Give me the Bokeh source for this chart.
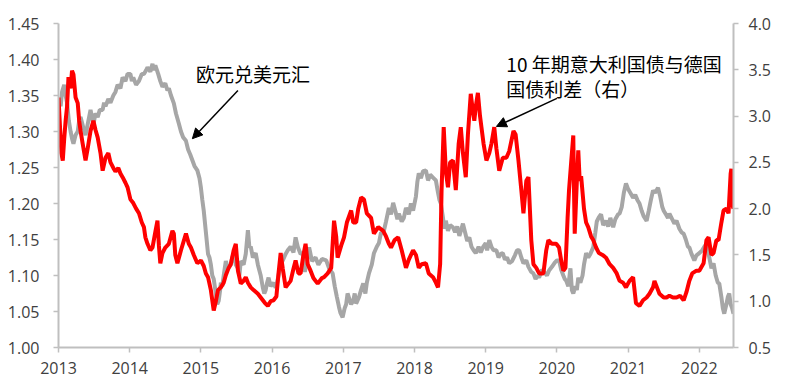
from bokeh.plotting import figure
from bokeh.models import Range1d, LinearAxis, FixedTicker, NumeralTickFormatter, Label, Arrow, NormalHead
from bokeh.embed import file_html
from bokeh.resources import INLINE

# EUR/USD (left axis)
eur_t = [2013.00, 2013.015, 2013.03, 2013.05, 2013.08, 2013.10, 2013.12, 2013.145, 2013.17, 2013.19,
         2013.21, 2013.24, 2013.27, 2013.29, 2013.31, 2013.35, 2013.38, 2013.42, 2013.45, 2013.47,
         2013.49, 2013.52, 2013.55, 2013.58, 2013.62, 2013.64, 2013.66, 2013.70, 2013.73, 2013.77,
         2013.80, 2013.83, 2013.87, 2013.90, 2013.94, 2013.97, 2014.01, 2014.03, 2014.05, 2014.09,
         2014.13, 2014.17, 2014.20, 2014.23, 2014.25, 2014.29, 2014.32, 2014.34, 2014.36, 2014.40,
         2014.43, 2014.46, 2014.50, 2014.53, 2014.55, 2014.58, 2014.62, 2014.65, 2014.69, 2014.72,
         2014.75, 2014.79, 2014.82, 2014.85, 2014.88, 2014.91, 2014.95, 2014.98, 2015.00, 2015.02,
         2015.04, 2015.07, 2015.10, 2015.12, 2015.14, 2015.16, 2015.18, 2015.21, 2015.23, 2015.25,
         2015.27, 2015.28, 2015.30, 2015.32, 2015.35, 2015.38, 2015.42, 2015.44, 2015.46, 2015.49,
         2015.52, 2015.54, 2015.56, 2015.60, 2015.63, 2015.66, 2015.68, 2015.70, 2015.73, 2015.77,
         2015.80, 2015.84, 2015.87, 2015.89, 2015.91, 2015.93, 2015.95, 2015.98, 2016.02, 2016.05,
         2016.07, 2016.09, 2016.12, 2016.15, 2016.19, 2016.22, 2016.26, 2016.30, 2016.33, 2016.36,
         2016.40, 2016.43, 2016.46, 2016.48, 2016.52, 2016.56, 2016.61, 2016.65, 2016.70, 2016.76,
         2016.80, 2016.85, 2016.88, 2016.91, 2016.94, 2016.96, 2016.99, 2017.02, 2017.04, 2017.06,
         2017.08, 2017.11, 2017.14, 2017.16, 2017.18, 2017.22, 2017.25, 2017.28, 2017.31, 2017.33,
         2017.36, 2017.40, 2017.43, 2017.47, 2017.50, 2017.53, 2017.56, 2017.60, 2017.64, 2017.67,
         2017.70, 2017.73, 2017.76, 2017.78, 2017.82, 2017.85, 2017.88, 2017.92, 2017.95, 2017.98,
         2018.02, 2018.04, 2018.06, 2018.09, 2018.12, 2018.16, 2018.19, 2018.22, 2018.26, 2018.30,
         2018.33, 2018.35, 2018.37, 2018.40, 2018.42, 2018.44, 2018.47, 2018.50, 2018.54, 2018.57,
         2018.60, 2018.63, 2018.66, 2018.68, 2018.71, 2018.74, 2018.77, 2018.80, 2018.83, 2018.86,
         2018.90, 2018.93, 2018.96, 2019.00, 2019.02, 2019.05, 2019.08, 2019.11, 2019.15, 2019.18,
         2019.21, 2019.24, 2019.27, 2019.30, 2019.33, 2019.37, 2019.41, 2019.44, 2019.47, 2019.50,
         2019.53, 2019.57, 2019.60, 2019.64, 2019.67, 2019.70, 2019.73, 2019.75, 2019.79, 2019.82,
         2019.86, 2019.89, 2019.93, 2019.97, 2020.00, 2020.03, 2020.06, 2020.09, 2020.11, 2020.13,
         2020.16, 2020.19, 2020.21, 2020.23, 2020.26, 2020.28, 2020.30, 2020.33, 2020.36, 2020.38,
         2020.41, 2020.44, 2020.47, 2020.51, 2020.54, 2020.56, 2020.59, 2020.62, 2020.65, 2020.69,
         2020.72, 2020.75, 2020.79, 2020.82, 2020.86, 2020.88, 2020.91, 2020.94, 2020.97, 2021.00,
         2021.03, 2021.07, 2021.10, 2021.13, 2021.16, 2021.19, 2021.22, 2021.26, 2021.29, 2021.32,
         2021.35, 2021.38, 2021.42, 2021.45, 2021.48, 2021.50, 2021.53, 2021.56, 2021.58, 2021.62,
         2021.65, 2021.68, 2021.72, 2021.75, 2021.78, 2021.81, 2021.84, 2021.86, 2021.89, 2021.93,
         2021.96, 2022.00, 2022.04, 2022.07, 2022.10, 2022.13, 2022.17, 2022.20, 2022.23, 2022.26,
         2022.28, 2022.31, 2022.33, 2022.35, 2022.38, 2022.40, 2022.42, 2022.44, 2022.46, 2022.48]
eur_v = [1.330, 1.345, 1.335, 1.355, 1.365, 1.350, 1.340, 1.315, 1.300, 1.290,
         1.283, 1.295, 1.300, 1.315, 1.320, 1.305, 1.295, 1.315, 1.330, 1.320,
         1.310, 1.325, 1.320, 1.330, 1.330, 1.340, 1.335, 1.345, 1.340, 1.350,
         1.355, 1.365, 1.360, 1.375, 1.370, 1.380, 1.380, 1.370, 1.375, 1.365,
         1.370, 1.380, 1.380, 1.385, 1.389, 1.383, 1.394, 1.385, 1.392, 1.380,
         1.370, 1.362, 1.367, 1.357, 1.360, 1.350, 1.339, 1.325, 1.311, 1.300,
         1.292, 1.287, 1.275, 1.268, 1.260, 1.252, 1.246, 1.235, 1.222, 1.205,
         1.190, 1.160, 1.130, 1.125, 1.115, 1.100, 1.095, 1.075, 1.060, 1.065,
         1.080, 1.090, 1.085, 1.100, 1.120, 1.110, 1.115, 1.125, 1.130, 1.115,
         1.110, 1.100, 1.120, 1.115, 1.130, 1.163, 1.140, 1.140, 1.125, 1.131,
         1.115, 1.100, 1.083, 1.075, 1.080, 1.090, 1.097, 1.085, 1.090, 1.083,
         1.090, 1.100, 1.115, 1.121, 1.130, 1.135, 1.140, 1.132, 1.153, 1.140,
         1.130, 1.131, 1.105, 1.115, 1.139, 1.120, 1.125, 1.115, 1.123, 1.121,
         1.110, 1.103, 1.085, 1.070, 1.056, 1.048, 1.042, 1.055, 1.060, 1.075,
         1.069, 1.060, 1.065, 1.075, 1.061, 1.070, 1.080, 1.089, 1.075, 1.090,
         1.103, 1.115, 1.131, 1.140, 1.145, 1.160, 1.158, 1.175, 1.194, 1.185,
         1.201, 1.190, 1.178, 1.186, 1.175, 1.180, 1.194, 1.185, 1.200, 1.190,
         1.210, 1.230, 1.242, 1.235, 1.245, 1.246, 1.232, 1.240, 1.236, 1.232,
         1.215, 1.205, 1.200, 1.180, 1.165, 1.176, 1.162, 1.170, 1.167, 1.160,
         1.168, 1.155, 1.165, 1.172, 1.160, 1.148, 1.153, 1.140, 1.135, 1.131,
         1.140, 1.132, 1.139, 1.145, 1.135, 1.149, 1.140, 1.135, 1.135, 1.125,
         1.130, 1.131, 1.122, 1.125, 1.117, 1.120, 1.128, 1.135, 1.135, 1.125,
         1.117, 1.121, 1.112, 1.105, 1.103, 1.095, 1.100, 1.097, 1.108, 1.105,
         1.100, 1.107, 1.112, 1.118, 1.121, 1.121, 1.108, 1.100, 1.095, 1.093,
         1.085, 1.110, 1.080, 1.075, 1.085, 1.080, 1.097, 1.090, 1.100, 1.115,
         1.131, 1.125, 1.130, 1.139, 1.160, 1.175, 1.181, 1.185, 1.170, 1.176,
         1.168, 1.180, 1.167, 1.178, 1.185, 1.186, 1.195, 1.215, 1.228, 1.220,
         1.215, 1.208, 1.212, 1.205, 1.200, 1.190, 1.182, 1.176, 1.190, 1.205,
         1.218, 1.215, 1.222, 1.210, 1.195, 1.190, 1.185, 1.180, 1.186, 1.178,
         1.172, 1.176, 1.165, 1.160, 1.158, 1.150, 1.140, 1.139, 1.130, 1.121,
         1.128, 1.131, 1.135, 1.140, 1.144, 1.130, 1.110, 1.117, 1.100, 1.090,
         1.089, 1.070, 1.055, 1.047, 1.060, 1.070, 1.075, 1.060, 1.055, 1.047]

# 10Y Italy-Germany spread, % (right axis)
spr_t = [2013.00, 2013.02, 2013.04, 2013.06, 2013.08, 2013.10, 2013.12, 2013.14, 2013.17, 2013.19,
         2013.21, 2013.24, 2013.27, 2013.29, 2013.31, 2013.34, 2013.38, 2013.41, 2013.45, 2013.49,
         2013.52, 2013.55, 2013.59, 2013.62, 2013.66, 2013.70, 2013.73, 2013.77, 2013.80, 2013.84,
         2013.87, 2013.90, 2013.94, 2013.97, 2014.01, 2014.05, 2014.09, 2014.13, 2014.17, 2014.20,
         2014.22, 2014.25, 2014.29, 2014.32, 2014.36, 2014.39, 2014.41, 2014.43, 2014.46, 2014.50,
         2014.55, 2014.60, 2014.62, 2014.64, 2014.67, 2014.72, 2014.79, 2014.83, 2014.86, 2014.90,
         2014.95, 2015.00, 2015.04, 2015.07, 2015.10, 2015.14, 2015.18, 2015.21, 2015.24, 2015.28,
         2015.32, 2015.35, 2015.39, 2015.42, 2015.46, 2015.49, 2015.52, 2015.56, 2015.60, 2015.63,
         2015.66, 2015.70, 2015.74, 2015.80, 2015.84, 2015.90, 2015.94, 2015.98, 2016.02, 2016.06,
         2016.09, 2016.12, 2016.15, 2016.19, 2016.23, 2016.26, 2016.30, 2016.33, 2016.37, 2016.40,
         2016.44, 2016.47, 2016.50, 2016.54, 2016.58, 2016.64, 2016.70, 2016.73, 2016.78, 2016.83,
         2016.87, 2016.90, 2016.92, 2016.97, 2017.01, 2017.05, 2017.11, 2017.14, 2017.18, 2017.21,
         2017.25, 2017.29, 2017.33, 2017.39, 2017.43, 2017.49, 2017.56, 2017.60, 2017.64, 2017.67,
         2017.72, 2017.77, 2017.82, 2017.88, 2017.92, 2017.98, 2018.02, 2018.06, 2018.10, 2018.16,
         2018.20, 2018.26, 2018.30, 2018.33, 2018.36, 2018.38, 2018.41, 2018.44, 2018.47, 2018.50,
         2018.54, 2018.58, 2018.62, 2018.65, 2018.68, 2018.72, 2018.75, 2018.79, 2018.82, 2018.84,
         2018.86, 2018.89, 2018.92, 2018.94, 2018.97, 2019.01, 2019.05, 2019.08, 2019.12, 2019.15,
         2019.19, 2019.24, 2019.29, 2019.33, 2019.39, 2019.42, 2019.46, 2019.50, 2019.53, 2019.57,
         2019.60, 2019.62, 2019.64, 2019.67, 2019.71, 2019.75, 2019.81, 2019.85, 2019.88, 2019.93,
         2019.99, 2020.03, 2020.06, 2020.09, 2020.12, 2020.15, 2020.17, 2020.20, 2020.23, 2020.24,
         2020.25, 2020.28, 2020.30, 2020.32, 2020.34, 2020.38, 2020.41, 2020.44, 2020.48, 2020.51,
         2020.55, 2020.59, 2020.64, 2020.69, 2020.74, 2020.79, 2020.84, 2020.88, 2020.93, 2020.97,
         2021.02, 2021.07, 2021.11, 2021.16, 2021.21, 2021.26, 2021.30, 2021.35, 2021.37, 2021.42,
         2021.44, 2021.50, 2021.54, 2021.58, 2021.63, 2021.68, 2021.73, 2021.78, 2021.82, 2021.86,
         2021.90, 2021.96, 2022.00, 2022.06, 2022.10, 2022.13, 2022.17, 2022.20, 2022.24, 2022.27,
         2022.31, 2022.34, 2022.38, 2022.41, 2022.44, 2022.45, 2022.46, 2022.48]
spr_v = [3.20, 2.90, 2.60, 2.52, 2.75, 2.95, 3.10, 3.42, 3.30, 3.49,
         3.45, 3.20, 3.14, 2.95, 2.84, 2.70, 2.52, 2.65, 2.84, 2.95,
         2.85, 2.77, 2.60, 2.41, 2.55, 2.60, 2.50, 2.44, 2.40, 2.44,
         2.38, 2.34, 2.28, 2.23, 2.10, 2.06, 2.00, 1.95, 1.85, 1.80,
         1.69, 1.62, 1.55, 1.58, 1.75, 1.87, 1.60, 1.41, 1.52, 1.58,
         1.62, 1.76, 1.73, 1.50, 1.41, 1.55, 1.73, 1.62, 1.58, 1.50,
         1.41, 1.44, 1.38, 1.30, 1.26, 1.12, 0.90, 1.00, 1.12, 1.15,
         1.20, 1.28, 1.36, 1.40, 1.55, 1.62, 1.33, 1.19, 1.22, 1.26,
         1.20, 1.15, 1.12, 1.08, 1.04, 0.98, 0.95, 1.00, 1.01, 1.05,
         1.30, 1.52, 1.35, 1.15, 1.19, 1.22, 1.35, 1.44, 1.30, 1.30,
         1.50, 1.62, 1.40, 1.33, 1.25, 1.19, 1.25, 1.26, 1.30, 1.36,
         1.87, 1.70, 1.47, 1.60, 1.69, 1.85, 1.98, 1.85, 1.85, 2.00,
         2.12, 2.10, 1.95, 1.90, 1.73, 1.80, 1.76, 1.70, 1.62, 1.58,
         1.66, 1.69, 1.55, 1.36, 1.45, 1.55, 1.50, 1.36, 1.40, 1.41,
         1.30, 1.26, 1.20, 1.15, 1.40, 2.20, 2.88, 2.40, 2.23, 2.50,
         2.52, 2.20, 2.70, 2.88, 2.60, 2.34, 2.80, 3.24, 3.05, 2.95,
         3.10, 3.25, 3.00, 2.88, 2.70, 2.52, 2.60, 2.70, 2.88, 2.65,
         2.41, 2.55, 2.55, 2.62, 2.84, 2.80, 2.52, 2.20, 1.95, 2.30,
         2.34, 2.00, 1.66, 1.40, 1.36, 1.30, 1.30, 1.55, 1.66, 1.62,
         1.62, 1.58, 1.44, 1.33, 1.36, 1.90, 2.20, 2.50, 2.79, 2.20,
         1.73, 2.30, 2.63, 2.30, 2.35, 2.00, 1.85, 1.80, 1.70, 1.66,
         1.58, 1.52, 1.50, 1.47, 1.40, 1.36, 1.30, 1.22, 1.20, 1.15,
         1.22, 1.26, 0.98, 0.95, 1.01, 1.04, 1.08, 1.15, 1.22, 1.12,
         1.08, 1.04, 1.04, 1.06, 1.04, 1.04, 1.06, 1.01, 1.10, 1.22,
         1.30, 1.33, 1.33, 1.41, 1.66, 1.69, 1.50, 1.52, 1.66, 1.66,
         1.85, 1.98, 2.00, 1.95, 2.38, 2.43, 2.05, 2.00]

left_ticks = [1.00, 1.05, 1.10, 1.15, 1.20, 1.25, 1.30, 1.35, 1.40, 1.45]
right_ticks = [0.5, 1.0, 1.5, 2.0, 2.5, 3.0, 3.5, 4.0]
year_ticks = [2013, 2014, 2015, 2016, 2017, 2018, 2019, 2020, 2021, 2022]

label_eur = "欧元兑美元汇"
label_spr_1 = "10 年期意大利国债与德国"
label_spr_2 = "国债利差（右）"

FONT = "Open Sans"
CJK = "Noto Sans CJK SC"
AX = "#bfbfbf"
TXT = "#404040"

p = figure(width=783, height=382, output_backend="svg", toolbar_location=None,
           x_range=Range1d(2013, 2022.48), y_range=Range1d(1.0, 1.45),
           min_border_left=58, min_border_right=50, min_border_top=23, min_border_bottom=35)
p.extra_y_ranges = {"right": Range1d(0.5, 4.0)}
p.outline_line_color = None
p.grid.visible = False
p.background_fill_color = "white"

p.line(eur_t, eur_v, line_color="#a6a6a6", line_width=4)
p.line(spr_t, spr_v, line_color="#ff0000", line_width=4, y_range_name="right")

ra = LinearAxis(y_range_name="right")
p.add_layout(ra, "right")

for ax in [p.xaxis[0], p.yaxis[0], ra]:
    ax.axis_line_color = AX
    ax.axis_line_width = 2
    ax.major_tick_line_color = AX
    ax.major_tick_line_width = 1.5
    ax.major_tick_out = 5
    ax.major_tick_in = 0
    ax.minor_tick_line_color = None
    ax.major_label_text_font = FONT
    ax.major_label_text_font_size = "16px"
    ax.major_label_text_color = TXT

p.xaxis[0].ticker = FixedTicker(ticks=year_ticks)
p.xaxis[0].formatter = NumeralTickFormatter(format="0")
p.xaxis[0].major_label_standoff = 9
p.yaxis[0].ticker = FixedTicker(ticks=left_ticks)
p.yaxis[0].formatter = NumeralTickFormatter(format="0.00")
p.yaxis[0].major_label_standoff = 14
ra.ticker = FixedTicker(ticks=right_ticks)
ra.formatter = NumeralTickFormatter(format="0.0")
ra.major_label_standoff = 10

p.add_layout(Label(x=2022.31, y=1.452, text="%", text_font=FONT, text_font_size="13px",
                   text_color=TXT, text_baseline="bottom", text_align="center"))

p.add_layout(Label(x=2014.93, y=1.381, text=label_eur, text_font=CJK, text_font_size="19px",
                   text_color="black", text_baseline="middle", text_align="left"))
p.add_layout(Label(x=2019.29, y=1.394, text=label_spr_1, text_font=CJK, text_font_size="19px",
                   text_color="black", text_baseline="middle", text_align="left"))
p.add_layout(Label(x=2019.29, y=1.360, text=label_spr_2, text_font=CJK, text_font_size="19px",
                   text_color="black", text_baseline="middle", text_align="left"))

p.add_layout(Arrow(x_start=2015.52, y_start=1.357, x_end=2014.88, y_end=1.290,
                   line_color="black", line_width=1.5,
                   end=NormalHead(size=10, fill_color="black", line_color="black")))
p.add_layout(Arrow(x_start=2020.00, y_start=1.346, x_end=2019.15, y_end=1.307,
                   line_color="black", line_width=1.5,
                   end=NormalHead(size=10, fill_color="black", line_color="black")))

open("out.html", "w").write(file_html(p, INLINE))
